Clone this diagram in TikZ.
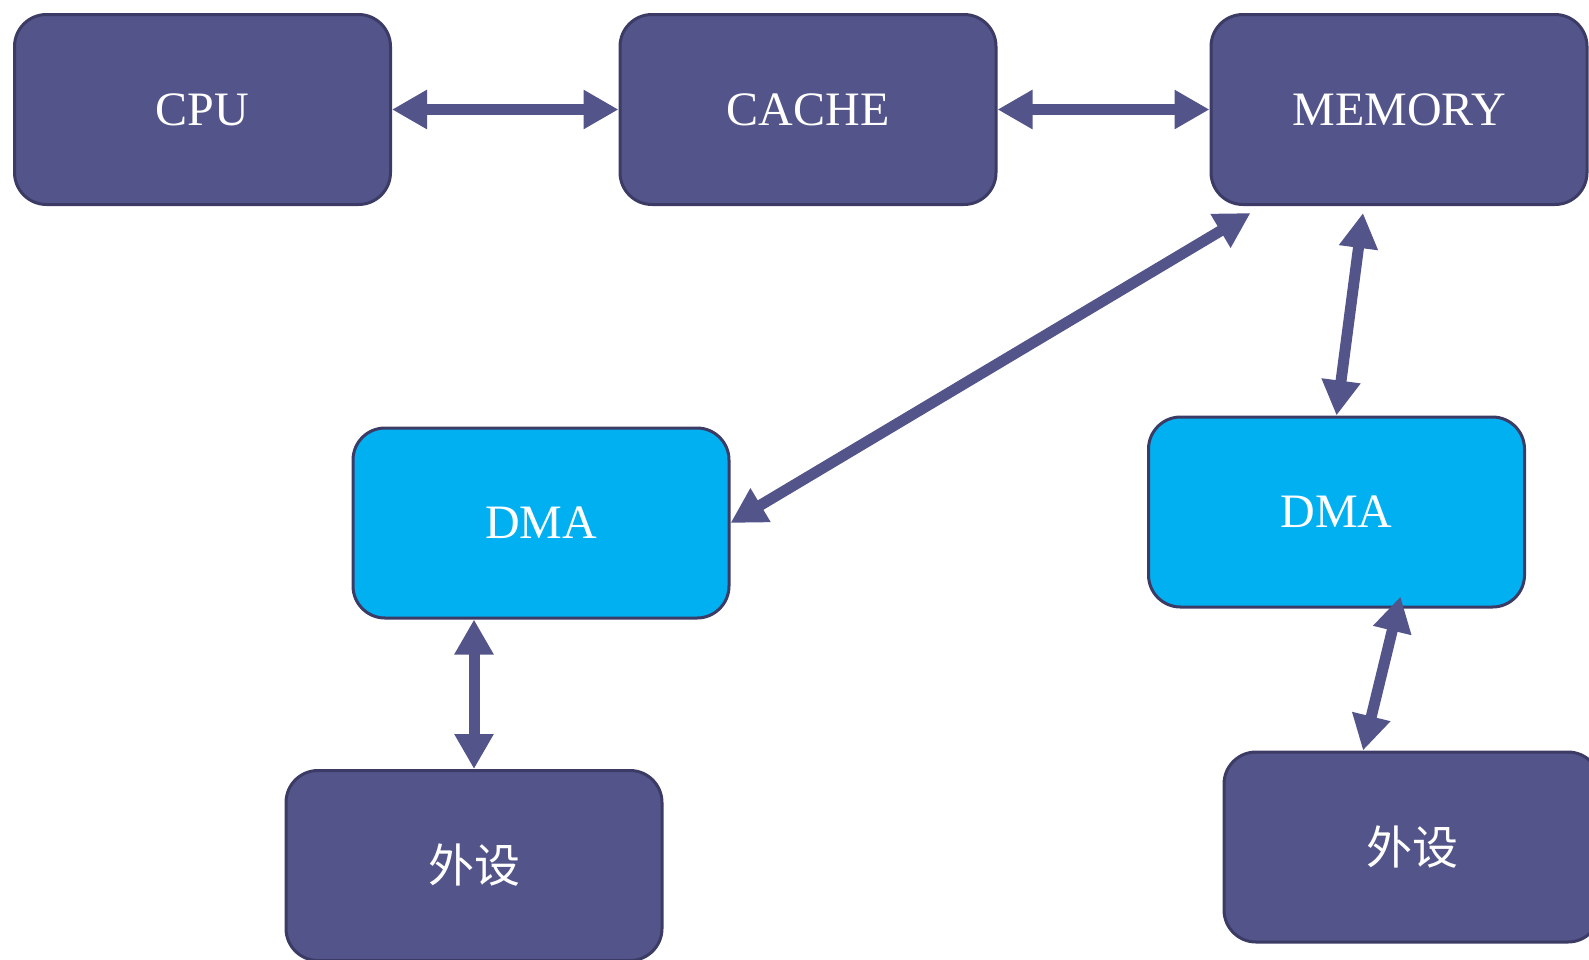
\documentclass[tikz,border=0pt]{standalone}
\usepackage{fontspec}
\setmainfont{Liberation Serif}
\newfontfamily\cjk{Noto Sans CJK SC}
\usetikzlibrary{arrows.meta,calc}

\definecolor{boxfill}{RGB}{83,84,138}
\definecolor{boxline}{RGB}{59,59,102}
\definecolor{dmafill}{RGB}{0,176,240}

\tikzset{
  unit/.style={draw=boxline, line width=3pt, fill=boxfill, rounded corners=32pt,
    minimum width=376pt, minimum height=190pt, text=white,
    font=\fontsize{48}{58}\selectfont},
  dmaunit/.style={unit, fill=dmafill},
  bus/.style={draw=boxfill, line width=11pt,
    {Triangle[width=37pt,length=35pt]}-{Triangle[width=37pt,length=35pt]}}
}

\begin{document}
\begin{tikzpicture}[x=1pt,y=-1pt]
\useasboundingbox (0,0) rectangle (1589,959);
\clip (0,0) rectangle (1589,959);

\node[unit] (cpu) at (202.5,109.5) {CPU};
\node[unit] (cache) at (808,109.5) {CACHE};
\node[unit] (memory) at (1399,109.5) {MEMORY};
\node[dmaunit] (dma_left) at (541,523) {DMA};
\node[dmaunit] (dma_right) at (1336.5,512) {DMA};
\node[unit, font=\cjk\fontsize{46}{56}\selectfont] (device_left) at (474,865.5) {外设};
\node[unit, font=\cjk\fontsize{46}{56}\selectfont] (device_right) at (1412,847) {外设};

\path[bus] (cpu) -- (cache);
\path[bus] (cache) -- (memory);
\path[bus] (dma_left.east) -- ($(memory.south west)+(41,7)$);
\path[bus] ($(memory.south)+(-36,7)$) -- (dma_right.north);
\path[bus] (dma_left.south -| device_left.north) -- (device_left.north);
\path[bus] ($(dma_right.south)+(64,-12)$) -- ($(device_right.north)+(-49,0)$);
\end{tikzpicture}
\end{document}
